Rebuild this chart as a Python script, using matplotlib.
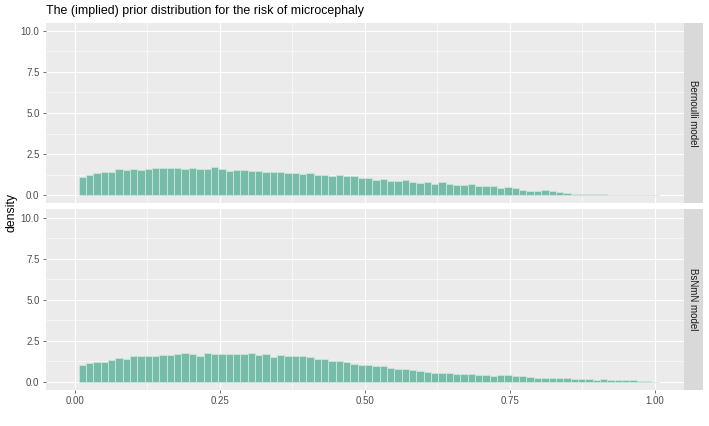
import numpy as np
import matplotlib
matplotlib.use("Agg")
import matplotlib.pyplot as plt

plt.rcParams['font.family'] = ['Liberation Sans', 'DejaVu Sans']

# histogram bins (left edges follow from start + width)
bin_start = 0.0069
bin_width = 0.01265

# density per bin
bern_density = [
    1.08, 1.24, 1.36, 1.43, 1.43, 1.57, 1.55, 1.57, 1.55, 1.61,
    1.63, 1.63, 1.67, 1.67, 1.59, 1.63, 1.59, 1.57, 1.69, 1.59,
    1.47, 1.53, 1.51, 1.45, 1.49, 1.38, 1.38, 1.38, 1.34, 1.34,
    1.28, 1.32, 1.22, 1.20, 1.16, 1.22, 1.14, 1.16, 1.04, 1.04,
    0.90, 0.96, 0.88, 0.88, 0.90, 0.81, 0.75, 0.79, 0.69, 0.79,
    0.65, 0.61, 0.61, 0.65, 0.57, 0.53, 0.53, 0.45, 0.51, 0.43,
    0.31, 0.26, 0.26, 0.28, 0.22, 0.16, 0.14, 0.08, 0.08, 0.06,
    0.06, 0.06, 0.02, 0.01, 0.01, 0.01, 0.005, 0.005, 0.005,
]
bsnmn_density = [
    1.00, 1.14, 1.20, 1.22, 1.30, 1.47, 1.41, 1.55, 1.57, 1.57,
    1.57, 1.61, 1.61, 1.71, 1.75, 1.69, 1.59, 1.77, 1.71, 1.69,
    1.69, 1.71, 1.71, 1.73, 1.61, 1.71, 1.51, 1.65, 1.55, 1.59,
    1.55, 1.51, 1.38, 1.38, 1.28, 1.24, 1.18, 1.08, 1.02, 1.00,
    0.96, 0.96, 0.86, 0.75, 0.79, 0.71, 0.67, 0.59, 0.55, 0.51,
    0.51, 0.49, 0.47, 0.47, 0.43, 0.43, 0.37, 0.43, 0.41, 0.35,
    0.32, 0.30, 0.25, 0.21, 0.23, 0.25, 0.23, 0.19, 0.19, 0.19,
    0.13, 0.15, 0.11, 0.09, 0.09, 0.09, 0.03, 0.03, 0.01,
]
panels = ["Bernoulli model", "BsNmN model"]
x_ticks = [0.0, 0.25, 0.5, 0.75, 1.0]
x_labels = ["0.00", "0.25", "0.50", "0.75", "1.00"]
y_ticks = [0.0, 2.5, 5.0, 7.5, 10.0]
y_labels = ["0.0", "2.5", "5.0", "7.5", "10.0"]

fig = plt.figure(figsize=(7.09, 4.26), dpi=100)
W, H = 709.0, 426.0
left, right = 45.7, 684.0
tops = [22.7, 209.3]
ph = 180.6

for i, (name, dens) in enumerate(zip(panels, [bern_density, bsnmn_density])):
    top = tops[i]
    ax = fig.add_axes([left / W, 1 - (top + ph) / H, (right - left) / W, ph / H])
    ax.set_facecolor('#EBEBEB')
    edges = bin_start + bin_width * np.arange(len(dens))
    ax.bar(edges, dens, width=bin_width, align='edge', color='#76BCA8',
           edgecolor='#CBE5DC', linewidth=0.6, zorder=3)
    ax.set_xlim(-0.05, 1.05)
    ax.set_ylim(-0.5, 10.5)
    ax.set_xticks(x_ticks)
    ax.set_xticks([0.125, 0.375, 0.625, 0.875], minor=True)
    ax.set_yticks(y_ticks)
    ax.set_yticks([1.25, 3.75, 6.25, 8.75], minor=True)
    ax.set_yticklabels(y_labels)
    ax.grid(which='major', color='white', linewidth=0.85, zorder=1)
    ax.grid(which='minor', color='white', linewidth=0.4, zorder=1)
    ax.set_axisbelow(True)
    for s in ax.spines.values():
        s.set_visible(False)
    ax.tick_params(which='major', length=2.5, width=0.5, color='#333333',
                   labelcolor='#4D4D4D', labelsize=7, pad=2)
    ax.tick_params(which='minor', length=0)
    if i == 1:
        ax.set_xticklabels(x_labels)
    else:
        ax.tick_params(axis='x', which='major', length=0, labelbottom=False)

    # facet strip on the right
    sx = fig.add_axes([right / W, 1 - (top + ph) / H, 18.7 / W, ph / H])
    sx.set_facecolor('#D9D9D9')
    sx.set_xticks([])
    sx.set_yticks([])
    for s in sx.spines.values():
        s.set_visible(False)
    sx.text(0.5, 0.5, name, rotation=-90, ha='center', va='center',
            fontsize=7, color='#1A1A1A', transform=sx.transAxes)

fig.text(46 / W, 1 - 11 / H, "The (implied) prior distribution for the risk of microcephaly",
         ha='left', va='center', fontsize=8.9, color='black')
fig.text(12 / W, 1 - 213 / H, "density", rotation=90, ha='center', va='center',
         fontsize=8.8, color='black')

fig.savefig("out.png", dpi=100)
